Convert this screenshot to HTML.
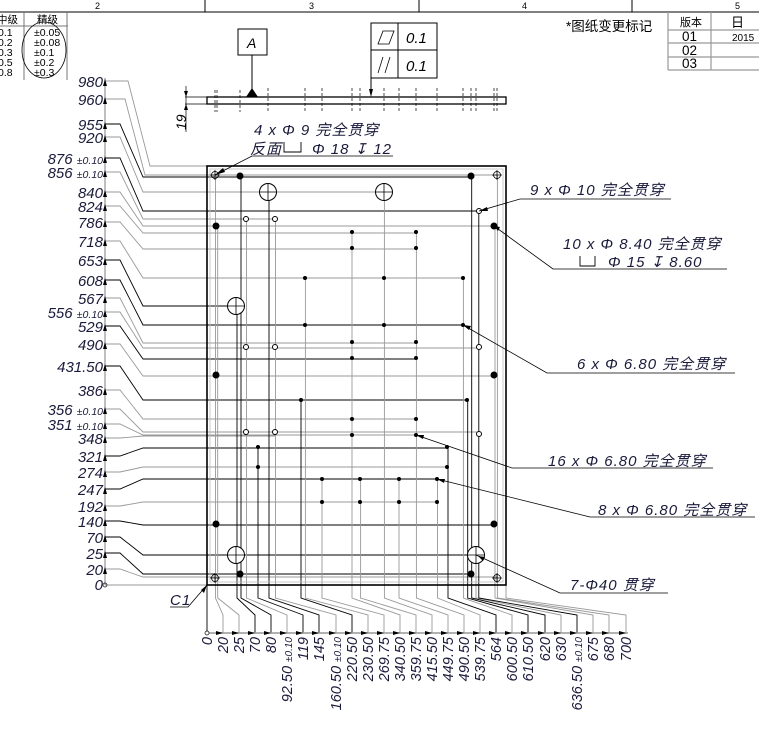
<!DOCTYPE html>
<html><head><meta charset="utf-8"><style>
html,body{margin:0;padding:0;background:#fff;width:759px;height:731px;overflow:hidden}
svg{display:block}
text{font-family:"Liberation Sans","Noto Sans CJK SC",sans-serif}
.it{font-style:italic}
</style></head><body>
<svg width="759" height="731" viewBox="0 0 759 731" xmlns="http://www.w3.org/2000/svg">
<line x1="0" y1="12" x2="759" y2="12" stroke="#000" stroke-width="1"/>
<line x1="205" y1="0" x2="205" y2="12" stroke="#000"/>
<line x1="419" y1="0" x2="419" y2="12" stroke="#000"/>
<line x1="632" y1="0" x2="632" y2="12" stroke="#000"/>
<g font-size="9" fill="#000"><text x="95" y="9">2</text><text x="309" y="9">3</text><text x="522" y="9">4</text><text x="735" y="9">5</text></g>
<g stroke="#777" fill="none"><line x1="0" y1="26" x2="68" y2="26"/><line x1="24" y1="12" x2="24" y2="80"/><line x1="67" y1="12" x2="67" y2="80"/></g>
<ellipse cx="44" cy="50" rx="22" ry="28" fill="none" stroke="#000" stroke-width="0.8"/>
<g font-size="10.5" fill="#000"><text x="-3" y="23">中级</text><text x="37" y="23">精级</text>
<text x="-2" y="36">0.1</text><text x="-2" y="46">0.2</text><text x="-2" y="56">0.3</text><text x="-2" y="66">0.5</text><text x="-2" y="76">0.8</text>
<text x="34" y="36">±0.05</text><text x="34" y="46">±0.08</text><text x="34" y="56">±0.1</text><text x="34" y="66">±0.2</text><text x="34" y="76">±0.3</text></g>
<text x="566" y="31" font-size="13.5" fill="#000">*图纸变更标记</text>
<g stroke="#999" fill="none" stroke-width="1.2"><line x1="668" y1="12" x2="668" y2="70"/><line x1="711" y1="12" x2="711" y2="70"/><line x1="668" y1="30" x2="759" y2="30"/><line x1="668" y1="43" x2="759" y2="43"/><line x1="668" y1="57" x2="759" y2="57"/><line x1="668" y1="70" x2="759" y2="70"/></g>
<g font-size="12" fill="#000"><text x="680" y="26" font-size="11">版本</text><text x="731" y="27" font-size="13">日</text><text x="682" y="41" font-size="13.5">01</text><text x="682" y="55" font-size="13.5">02</text><text x="682" y="68" font-size="13.5">03</text><text x="732" y="41" font-size="10">2015</text></g>

<rect x="207" y="97" width="299" height="7" fill="none" stroke="#000" stroke-width="1.3"/>
<g stroke="#000" stroke-width="0.7" stroke-dasharray="3,2">
<line x1="215" y1="90" x2="215" y2="112"/><line x1="217" y1="90" x2="217" y2="112"/><line x1="240" y1="90" x2="240" y2="112"/><line x1="268" y1="88" x2="268" y2="112"/><line x1="305" y1="88" x2="305" y2="112"/><line x1="322" y1="88" x2="322" y2="112"/><line x1="352" y1="88" x2="352" y2="112"/><line x1="360" y1="88" x2="360" y2="112"/><line x1="384" y1="88" x2="384" y2="112"/><line x1="399" y1="88" x2="399" y2="112"/><line x1="416" y1="88" x2="416" y2="112"/><line x1="437" y1="88" x2="437" y2="112"/><line x1="463" y1="88" x2="463" y2="112"/><line x1="471" y1="88" x2="471" y2="112"/><line x1="476" y1="88" x2="476" y2="112"/><line x1="494" y1="88" x2="494" y2="112"/><line x1="497" y1="88" x2="497" y2="112"/></g>
<line x1="185" y1="97" x2="207" y2="97" stroke="#000" stroke-width="0.7"/><line x1="185" y1="104" x2="207" y2="104" stroke="#000" stroke-width="0.7"/>
<line x1="186" y1="86" x2="186" y2="132" stroke="#000" stroke-width="0.7"/>
<polygon points="184,91 188,91 186,97" fill="#000"/><polygon points="184,110 188,110 186,104" fill="#000"/>
<text transform="translate(186,130) rotate(-90)" font-size="14" class="it" fill="#000">19</text>
<rect x="238" y="29" width="29" height="26" fill="#fff" stroke="#000"/>
<text x="247" y="48" font-size="14" class="it" fill="#000">A</text>
<line x1="252" y1="55" x2="252" y2="90" stroke="#000"/>
<polygon points="246,97 258,97 252,88" fill="#000"/>
<rect x="371" y="23" width="66" height="55" fill="#fff" stroke="#000"/>
<line x1="398" y1="23" x2="398" y2="78" stroke="#000"/><line x1="371" y1="50" x2="437" y2="50" stroke="#000"/>
<polygon points="378,44 383,31 394,31 389,44" fill="none" stroke="#000" stroke-width="0.8"/>
<line x1="378" y1="73" x2="383" y2="57" stroke="#000" stroke-width="0.8"/><line x1="385" y1="73" x2="390" y2="57" stroke="#000" stroke-width="0.8"/>
<g font-size="15" class="it" fill="#000"><text x="406" y="43">0.1</text><text x="406" y="71">0.1</text></g>
<line x1="371" y1="78" x2="371" y2="92" stroke="#000"/><polygon points="369,89 373,89 371,97" fill="#000"/>

<line x1="105" y1="78" x2="105" y2="585" stroke="#aaa" stroke-width="1.5"/>
<g fill="none" stroke-width="0.9">
<polyline stroke="#999" points="105,81 128,81 150,166 207,166"/>
<polyline stroke="#999" points="105,99 125,99 145,175 497,175"/>
<polyline stroke="#000" points="105,124 120,124 143,177 471,177"/>
<polyline stroke="#999" points="105,137 120,137 143,192 384,192"/>
<polyline stroke="#000" points="105,158 120,158 143,211 479,211"/>
<polyline stroke="#999" points="105,172 120,172 143,219 275,219"/>
<polyline stroke="#999" points="105,192 120,192 143,226 494,226"/>
<polyline stroke="#999" points="105,206 120,206 143,233 416,233"/>
<polyline stroke="#999" points="105,222 120,222 143,249 416,249"/>
<polyline stroke="#999" points="105,241 120,241 143,278 463,278"/>
<polyline stroke="#000" points="105,260 120,260 143,306 230,306"/>
<polyline stroke="#000" points="105,280 120,280 143,325 463,325"/>
<polyline stroke="#999" points="105,298 120,298 143,343 416,343"/>
<polyline stroke="#999" points="105,312 120,312 143,348 479,348"/>
<polyline stroke="#000" points="105,326 120,326 143,359 416,359"/>
<polyline stroke="#999" points="105,344 120,344 143,376 494,376"/>
<polyline stroke="#000" points="105,366 120,366 143,400 467,400"/>
<polyline stroke="#999" points="105,390 120,390 143,419 416,419"/>
<polyline stroke="#999" points="105,409 120,409 143,432 479,432"/>
<polyline stroke="#999" points="105,424 120,424 143,435 416,435"/>
<polyline stroke="#999" points="105,438 120,438 143,436 275,436"/>
<polyline stroke="#000" points="105,456 120,456 143,448 447,448"/>
<polyline stroke="#999" points="105,472 120,472 143,467 447,467"/>
<polyline stroke="#000" points="105,489 120,489 143,479 437,479"/>
<polyline stroke="#999" points="105,506 120,506 143,502 437,502"/>
<polyline stroke="#000" points="105,521 120,521 143,525 494,525"/>
<polyline stroke="#000" points="105,537 120,537 143,555 476,555"/>
<polyline stroke="#000" points="105,553 120,553 143,574 471,574"/>
<polyline stroke="#999" points="105,569 120,569 143,577 497,577"/>
<polyline stroke="#999" points="105,585 207,585"/>
</g>
<g fill="#000">
<polygon points="103,86 107,86 105,79"/><polygon points="103,104 107,104 105,97"/><polygon points="103,129 107,129 105,122"/><polygon points="103,142 107,142 105,135"/><polygon points="103,163 107,163 105,156"/><polygon points="103,177 107,177 105,170"/><polygon points="103,197 107,197 105,190"/><polygon points="103,211 107,211 105,204"/><polygon points="103,227 107,227 105,220"/><polygon points="103,246 107,246 105,239"/><polygon points="103,265 107,265 105,258"/><polygon points="103,285 107,285 105,278"/><polygon points="103,303 107,303 105,296"/><polygon points="103,317 107,317 105,310"/><polygon points="103,331 107,331 105,324"/><polygon points="103,349 107,349 105,342"/><polygon points="103,371 107,371 105,364"/><polygon points="103,395 107,395 105,388"/><polygon points="103,414 107,414 105,407"/><polygon points="103,429 107,429 105,422"/><polygon points="103,443 107,443 105,436"/><polygon points="103,461 107,461 105,454"/><polygon points="103,477 107,477 105,470"/><polygon points="103,494 107,494 105,487"/><polygon points="103,511 107,511 105,504"/><polygon points="103,526 107,526 105,519"/><polygon points="103,542 107,542 105,535"/><polygon points="103,558 107,558 105,551"/><polygon points="103,574 107,574 105,567"/>
</g>
<circle cx="105" cy="585" r="2" fill="none" stroke="#000" stroke-width="0.7"/>
<g font-size="15" class="it" fill="#1a1a3a" text-anchor="end">
<text x="103" y="87">980</text><text x="103" y="105">960</text><text x="103" y="130">955</text><text x="103" y="143">920</text>
<text x="103" y="164"><tspan>876 </tspan><tspan font-size="10.5">±0.10</tspan></text>
<text x="103" y="178"><tspan>856 </tspan><tspan font-size="10.5">±0.10</tspan></text>
<text x="103" y="198">840</text><text x="103" y="212">824</text><text x="103" y="228">786</text><text x="103" y="247">718</text><text x="103" y="266">653</text><text x="103" y="286">608</text><text x="103" y="304">567</text>
<text x="103" y="318"><tspan>556 </tspan><tspan font-size="10.5">±0.10</tspan></text>
<text x="103" y="332">529</text><text x="103" y="350">490</text><text x="103" y="372">431.50</text><text x="103" y="396">386</text>
<text x="103" y="415"><tspan>356 </tspan><tspan font-size="10.5">±0.10</tspan></text>
<text x="103" y="430"><tspan>351 </tspan><tspan font-size="10.5">±0.10</tspan></text>
<text x="103" y="444">348</text><text x="103" y="462">321</text><text x="103" y="478">274</text><text x="103" y="495">247</text><text x="103" y="512">192</text><text x="103" y="527">140</text><text x="103" y="543">70</text><text x="103" y="559">25</text><text x="103" y="575">20</text><text x="103" y="590">0</text>
</g>

<g fill="none" stroke-width="0.9">
<polyline stroke="#000" points="207,585 207,633"/>
<polyline stroke="#999" points="215.5,175 215.5,598 223,615 223,633"/>
<polyline stroke="#999" points="217.7,226 217.7,598 239,615 239,633"/>
<polyline stroke="#000" points="237,306 237,598 255,615 255,633"/>
<polyline stroke="#000" points="241,176 241,598 271,615 271,633"/>
<polyline stroke="#999" points="246.5,219 246.5,598 287,615 287,633"/>
<polyline stroke="#000" points="258,447 258,598 303,615 303,633"/>
<polyline stroke="#000" points="269,192 269,598 319,615 319,633"/>
<polyline stroke="#999" points="275.5,219 275.5,598 336,615 336,633"/>
<polyline stroke="#000" points="301,400 301,598 352,615 352,633"/>
<polyline stroke="#999" points="305.4,278 305.4,598 368,615 368,633"/>
<polyline stroke="#999" points="322,479 322,598 384,615 384,633"/>
<polyline stroke="#999" points="352,232 352,598 400,615 400,633"/>
<polyline stroke="#999" points="360.6,479 360.6,598 416,615 416,633"/>
<polyline stroke="#999" points="384.4,192 384.4,598 432,615 432,633"/>
<polyline stroke="#999" points="399,479 399,598 448,615 448,633"/>
<polyline stroke="#999" points="416.4,232 416.4,598 464,615 464,633"/>
<polyline stroke="#999" points="437.5,479 437.5,598 480,615 480,633"/>
<polyline stroke="#000" points="448,447 448,598 496,615 496,633"/>
<polyline stroke="#999" points="463.4,278 463.4,598 512,615 512,633"/>
<polyline stroke="#000" points="467.7,400 467.7,598 528,615 528,633"/>
<polyline stroke="#000" points="471.7,176 471.7,598 545,615 545,633"/>
<polyline stroke="#999" points="476,555 476,598 561,615 561,633"/>
<polyline stroke="#000" points="478.8,211 478.8,598 577,615 577,633"/>
<polyline stroke="#999" points="495,226 495,598 593,615 593,633"/>
<polyline stroke="#999" points="497.4,175 497.4,598 609,615 609,633"/>
<polyline stroke="#999" points="506,585 506,598 626,615 626,633"/>
</g>
<line x1="207" y1="633" x2="628" y2="633" stroke="#999" stroke-width="1.5"/>
<circle cx="207" cy="633" r="2" fill="#fff" stroke="#000" stroke-width="0.7"/>
<g fill="#000">
<polygon points="216,631 216,635 223,633"/><polygon points="232,631 232,635 239,633"/><polygon points="248,631 248,635 255,633"/><polygon points="264,631 264,635 271,633"/><polygon points="280,631 280,635 287,633"/><polygon points="296,631 296,635 303,633"/><polygon points="312,631 312,635 319,633"/><polygon points="329,631 329,635 336,633"/><polygon points="345,631 345,635 352,633"/><polygon points="361,631 361,635 368,633"/><polygon points="377,631 377,635 384,633"/><polygon points="393,631 393,635 400,633"/><polygon points="409,631 409,635 416,633"/><polygon points="425,631 425,635 432,633"/><polygon points="441,631 441,635 448,633"/><polygon points="457,631 457,635 464,633"/><polygon points="473,631 473,635 480,633"/><polygon points="489,631 489,635 496,633"/><polygon points="505,631 505,635 512,633"/><polygon points="521,631 521,635 528,633"/><polygon points="538,631 538,635 545,633"/><polygon points="554,631 554,635 561,633"/><polygon points="570,631 570,635 577,633"/><polygon points="586,631 586,635 593,633"/><polygon points="602,631 602,635 609,633"/><polygon points="619,631 619,635 626,633"/>
</g>
<g font-size="14.5" class="it" fill="#1a1a3a" text-anchor="end">
<text transform="translate(212,637) rotate(-90)">0</text>
<text transform="translate(228,637) rotate(-90)">20</text>
<text transform="translate(244,637) rotate(-90)">25</text>
<text transform="translate(260,637) rotate(-90)">70</text>
<text transform="translate(276,637) rotate(-90)">80</text>
<text transform="translate(292,637) rotate(-90)"><tspan>92.50 </tspan><tspan font-size="10">±0.10</tspan></text>
<text transform="translate(308,637) rotate(-90)">119</text>
<text transform="translate(324,637) rotate(-90)">145</text>
<text transform="translate(341,637) rotate(-90)"><tspan>160.50 </tspan><tspan font-size="10">±0.10</tspan></text>
<text transform="translate(357,637) rotate(-90)">220.50</text>
<text transform="translate(373,637) rotate(-90)">230.50</text>
<text transform="translate(389,637) rotate(-90)">269.75</text>
<text transform="translate(405,637) rotate(-90)">340.50</text>
<text transform="translate(421,637) rotate(-90)">359.75</text>
<text transform="translate(437,637) rotate(-90)">415.50</text>
<text transform="translate(453,637) rotate(-90)">449.75</text>
<text transform="translate(469,637) rotate(-90)">490.50</text>
<text transform="translate(485,637) rotate(-90)">539.75</text>
<text transform="translate(501,637) rotate(-90)">564</text>
<text transform="translate(517,637) rotate(-90)">600.50</text>
<text transform="translate(533,637) rotate(-90)">610.50</text>
<text transform="translate(550,637) rotate(-90)">620</text>
<text transform="translate(566,637) rotate(-90)">630</text>
<text transform="translate(582,637) rotate(-90)"><tspan>636.50 </tspan><tspan font-size="10">±0.10</tspan></text>
<text transform="translate(598,637) rotate(-90)">675</text>
<text transform="translate(614,637) rotate(-90)">680</text>
<text transform="translate(631,637) rotate(-90)">700</text>
</g>

<rect x="207" y="166" width="299" height="419" fill="none" stroke="#000" stroke-width="1.6"/>
<rect x="210" y="169" width="293" height="413" fill="none" stroke="#bbb" stroke-width="0.8"/>
<g fill="none" stroke="#000" stroke-width="0.8">
<circle cx="215" cy="175" r="3.5"/><circle cx="497" cy="175" r="3.5"/><circle cx="215" cy="578" r="3.5"/><circle cx="497" cy="578" r="3.5"/>
<path d="M210,175h10M215,170v10M492,175h10M497,170v10M210,578h10M215,573v10M492,578h10M497,573v10"/>
</g>
<g fill="#000">
<circle cx="240" cy="176" r="3.5"/><circle cx="471" cy="176" r="3.5"/><circle cx="216" cy="226" r="3.5"/><circle cx="494" cy="226" r="3.5"/><circle cx="216" cy="375" r="3.5"/><circle cx="494" cy="375" r="3.5"/><circle cx="216" cy="524" r="3.5"/><circle cx="494" cy="524" r="3.5"/><circle cx="240" cy="574" r="3.5"/><circle cx="471" cy="574" r="3.5"/>
</g>
<g fill="#fff" stroke="#000" stroke-width="1">
<circle cx="268" cy="192" r="8.5"/><circle cx="384" cy="192" r="8.5"/><circle cx="236" cy="306" r="8.5"/><circle cx="236" cy="555" r="8.5"/><circle cx="476" cy="555" r="8.5"/>
</g>
<path d="M259.5,192h17M268,183.5v17M375.5,192h17M384,183.5v17M227.5,306h17M236,297.5v17M227.5,555h17M236,546.5v17M467.5,555h17M476,546.5v17" stroke="#000" stroke-width="0.8"/>
<g fill="#fff" stroke="#000" stroke-width="1">
<circle cx="246" cy="219" r="2.5"/><circle cx="275" cy="219" r="2.5"/><circle cx="246" cy="347" r="2.5"/><circle cx="275" cy="347" r="2.5"/><circle cx="246" cy="432" r="2.5"/><circle cx="275" cy="432" r="2.5"/><circle cx="479" cy="211" r="2.5"/><circle cx="479" cy="347" r="2.5"/><circle cx="479" cy="434" r="2.5"/>
</g>
<g fill="#000">
<circle cx="352" cy="232" r="2"/><circle cx="416" cy="232" r="2"/><circle cx="352" cy="248" r="2"/><circle cx="416" cy="248" r="2"/><circle cx="305" cy="278" r="2"/><circle cx="384" cy="278" r="2"/><circle cx="463" cy="278" r="2"/><circle cx="305" cy="325" r="2"/><circle cx="384" cy="325" r="2"/><circle cx="463" cy="325" r="2"/><circle cx="352" cy="342" r="2"/><circle cx="416" cy="342" r="2"/><circle cx="352" cy="358" r="2"/><circle cx="416" cy="358" r="2"/><circle cx="301" cy="400" r="2"/><circle cx="467" cy="400" r="2"/><circle cx="352" cy="419" r="2"/><circle cx="416" cy="419" r="2"/><circle cx="352" cy="435" r="2"/><circle cx="416" cy="435" r="2"/><circle cx="258" cy="447" r="2"/><circle cx="447" cy="447" r="2"/><circle cx="258" cy="467" r="2"/><circle cx="447" cy="467" r="2"/><circle cx="322" cy="479" r="2"/><circle cx="360" cy="479" r="2"/><circle cx="399" cy="479" r="2"/><circle cx="437" cy="479" r="2"/><circle cx="322" cy="502" r="2"/><circle cx="360" cy="502" r="2"/><circle cx="399" cy="502" r="2"/><circle cx="437" cy="502" r="2"/>
</g>

<g fill="none" stroke="#000" stroke-width="0.8">
<polyline points="215,175 252,156 393,156"/>
<polyline points="479,211 520,199 671,199"/>
<polyline points="494,226 553,269 727,269"/>
<polyline points="463,325 547,373 735,373"/>
<polyline points="416,435 512,468 713,468"/>
<polyline points="437,479 590,517 755,517"/>
<polyline points="476,555 560,593 668,593"/>
<polyline points="207,585 188,607 170,607"/>
</g>
<g fill="#000">
<polygon points="215,175 223,168 225,172"/>
<polygon points="479,211 487,207 488,211"/>
<polygon points="494,226 500,227 498,231"/>
<polygon points="463,325 471,326 469,330"/>
<polygon points="416,435 424,435 423,439"/>
<polygon points="437,479 445,479 444,483"/>
<polygon points="478,556 485,557 483,561"/>
<polygon points="207,585 204,593 201,590"/>
</g>
<g font-size="15" class="it" fill="#1a1a3a" letter-spacing="1">
<text x="254" y="135">4 x Φ 9 完全贯穿</text>
<text x="250" y="154">反面<tspan dx="30">Φ 18 ↧ 12</tspan></text>
<text x="530" y="195">9 x Φ 10 完全贯穿</text>
<text x="563" y="249">10 x Φ 8.40 完全贯穿</text>
<text x="608" y="267">Φ 15 ↧ 8.60</text>
<text x="577" y="369">6 x Φ 6.80 完全贯穿</text>
<text x="548" y="466">16 x Φ 6.80 完全贯穿</text>
<text x="598" y="515">8 x Φ 6.80 完全贯穿</text>
<text x="570" y="590">7-Φ40 贯穿</text>
<text x="170" y="605">C1</text>
</g>
<path d="M284,142v10h17v-10M580,256v10h15v-10" fill="none" stroke="#000" stroke-width="0.9"/>
</svg>
</body></html>
